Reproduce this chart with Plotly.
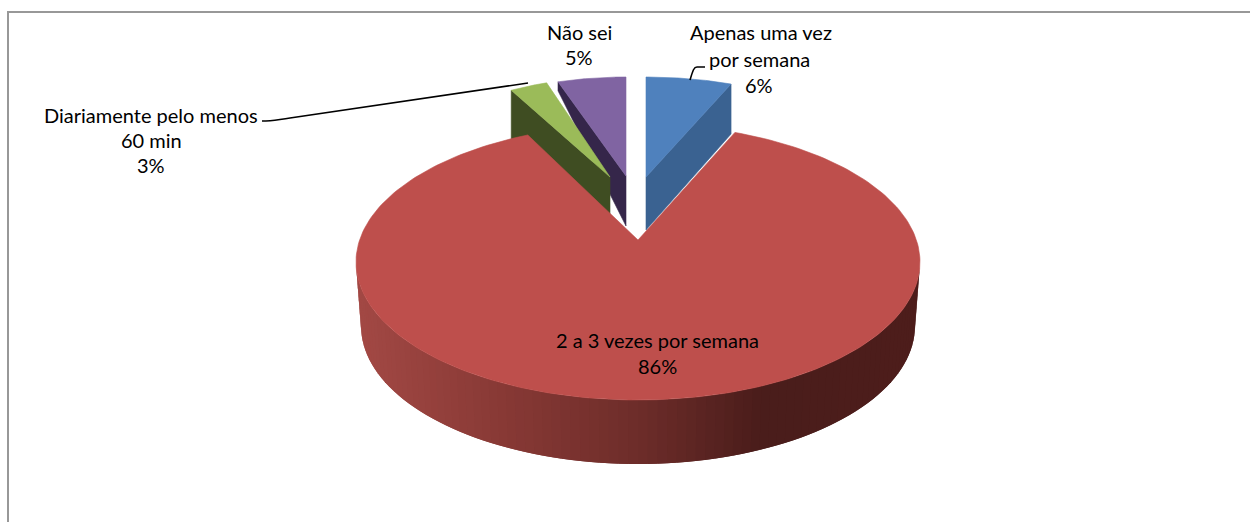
import numpy as np
import plotly.graph_objects as go

# ---- data ----
categories = ["Apenas uma vez por semana", "2 a 3 vezes por semana",
              "Diariamente pelo menos 60 min", "Não sei"]
values = [6, 86, 3, 5]
label_lines = [["Apenas uma vez", "por semana", "6%"],
               ["2 a 3 vezes por semana", "86%"],
               ["Diariamente pelo menos", "60 min", "3%"],
               ["Não sei", "5%"]]

# ---- styling / geometry ----
W, H = 1250, 522
top_colors = ["#4F81BD", "#BE4F4C", "#9BBB59", "#8064A2"]
wall_colors = ["#3A6291", None, "#3F4D22", "#35264A"]
FONT = "Lato"
FSIZE = 20
# apex, ellipse centre, radii of each exploded slice as seen in perspective
apex = [(646, 177), (638, 240), (610, 177), (626, 176)]
centre = [(646, 177), (638, 262), (610, 177), (626, 176)]
radii = [(231, 100), (282, 138), (205, 99), (220, 99)]
# perspective shift of each slice's two edge angles, in degrees
edge_shift = [(0, 0), (-1.5, 5.8), (0, 0), (0, 0)]
side_depth = [53, 0, 50, 50]
corner_depth = [50, 0, 50, 9]
label_pos = [[(761, 32), (759, 59), (759, 85)],
             [(657, 340), (657, 366)],
             [(151, 115), (151, 140), (151, 165)],
             [(579, 32), (579, 57)]]
red_bottom_centre = (638, 326)
red_bottom_radii = (277, 138)
grad_x = [0.0, 0.25, 0.5, 0.72, 1.0]
grad_rgb = [(163, 73, 69), (137, 58, 54), (110, 45, 42), (74, 29, 27), (78, 30, 28)]

fig = go.Figure()


def arc(c, r, a, b, n=60):
    t = np.radians(np.linspace(a, b, n))
    return c[0] + r[0] * np.sin(t), c[1] - r[1] * np.cos(t)


def poly(x, y, color, lw=0.6):
    fig.add_trace(go.Scatter(x=list(x), y=list(y), mode="lines", fill="toself",
                             fillcolor=color, line=dict(color=color, width=lw),
                             hoverinfo="skip"))


edges = np.concatenate([[0], np.cumsum(values)]) / sum(values) * 360
angles = [(edges[i] + edge_shift[i][0], edges[i + 1] + edge_shift[i][1]) for i in range(len(values))]


def draw_small(i):
    a, b = angles[i]
    ax, ay = apex[i]
    xs, ys = arc(centre[i], radii[i], a, b)
    # the outer corner next to the neighbouring slice carries the inner wall
    cx, cy = (xs[-1], ys[-1]) if i in (0,) else (xs[0], ys[0])
    poly([cx, cx, ax, ax, cx],
         [cy, cy + corner_depth[i], ay + side_depth[i], ay, cy], wall_colors[i])
    poly(np.r_[ax, xs, ax], np.r_[ay, ys, ay], top_colors[i])


for i in (3, 2, 0):
    draw_small(i)

# red slice: outer wall as overlapping gradient strips, then the top face
N = 90
tx, ty = arc(centre[1], radii[1], 90, 270, N + 1)
bx, by = arc(red_bottom_centre, red_bottom_radii, 90, 270, N + 1)
xmin, xmax = tx.min(), tx.max()
for k in range(N):
    e = min(k + 2, N)
    f = (0.5 * (tx[k] + tx[k + 1]) - xmin) / (xmax - xmin)
    rgb = [np.interp(f, grad_x, [c[j] for c in grad_rgb]) for j in range(3)]
    col = "rgb(%d,%d,%d)" % tuple(rgb)
    poly([tx[k], tx[e], bx[e], bx[k], tx[k]],
         [ty[k], ty[e], by[e], by[k], ty[k]], col, lw=0)

a, b = angles[1]
xs, ys = arc(centre[1], radii[1], a, b, 240)
poly(np.r_[apex[1][0], xs, apex[1][0]], np.r_[apex[1][1], ys, apex[1][1]], top_colors[1])

# labels
for lines, pos in zip(label_lines, label_pos):
    for s, (x, y) in zip(lines, pos):
        fig.add_annotation(x=x, y=y, text=s, showarrow=False, xanchor="center", yanchor="middle",
                           font=dict(family=FONT, size=FSIZE, color="#000000"))

# leader lines and frame
shapes = [
    dict(type="path", path="M 262 121 C 272 121 275 120 290 118 L 528 83",
         line=dict(color="#000000", width=1.6)),
    dict(type="path", path="M 705 67 L 697 67 C 694 67 693 70 690 80",
         line=dict(color="#000000", width=1.6)),
    dict(type="line", x0=7, x1=W, y0=12, y1=12, line=dict(color="#989898", width=2)),
    dict(type="line", x0=8, x1=8, y0=12, y1=H, line=dict(color="#989898", width=2)),
]
fig.update_layout(
    width=W, height=H, margin=dict(l=0, r=0, t=0, b=0), showlegend=False,
    paper_bgcolor="#FFFFFF", plot_bgcolor="#FFFFFF", shapes=shapes,
    xaxis=dict(range=[0, W], visible=False, fixedrange=True),
    yaxis=dict(range=[H, 0], visible=False, fixedrange=True),
)
fig.write_html("out.html", config=dict(displayModeBar=False),
               post_script="document.body.style.margin='0';document.body.style.overflow='hidden';")
